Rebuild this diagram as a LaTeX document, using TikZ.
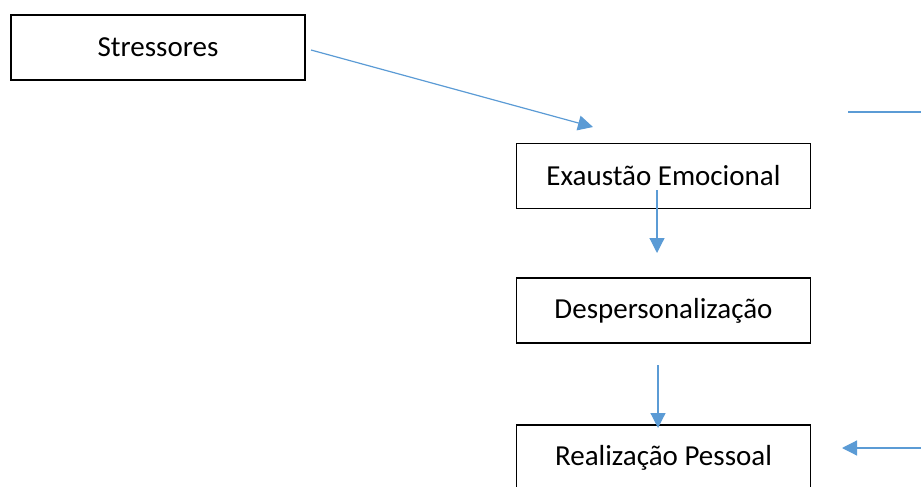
\documentclass[tikz,border=0pt]{standalone}
\usepackage{fontspec}
\setmainfont{Carlito}
\usetikzlibrary{arrows.meta}
\definecolor{officeblue}{HTML}{5B9BD5}
\tikzset{
  box/.style={draw=black, line width=1.8pt, minimum width=294pt, minimum height=65pt,
    inner sep=0pt, font=\fontsize{29}{34}\selectfont},
  link/.style={draw=officeblue, line width=1.2pt, -{Triangle[length=15pt,width=15pt]}}
}
\begin{document}
\begin{tikzpicture}[x=1pt,y=-1pt]
      \useasboundingbox (0,0) rectangle (921,487);
      \clip (0,0) rectangle (921,487);
      \draw
        (158,47.5) node[box] (stress){Stressores}
        (663.5,176) node[box] (exaust){Exaustão Emocional}
        (663.5,310.5) node[box] (desp){Despersonalização}
        (663.5,457.5) node[box] (real){Realização Pessoal};
      \coordinate (s0) at (311,50);
      \coordinate (s1) at (593,127);
      \coordinate (e0) at (657,190);
      \coordinate (e1) at (657,253);
      \coordinate (d0) at (658,365);
      \coordinate (d1) at (658,428);
      \coordinate (t0) at (848,112);
      \coordinate (t1) at (921,112);
      \coordinate (r0) at (921,448);
      \coordinate (r1) at (842,448);
      \begin{scope}[link]
        \draw (s0) to (s1);
        \draw (e0) to (e1);
        \draw (d0) to (d1);
        \draw (r0) to (r1);
        \draw[-] (t0) to (t1);
      \end{scope}
    \end{tikzpicture}
\end{document}
